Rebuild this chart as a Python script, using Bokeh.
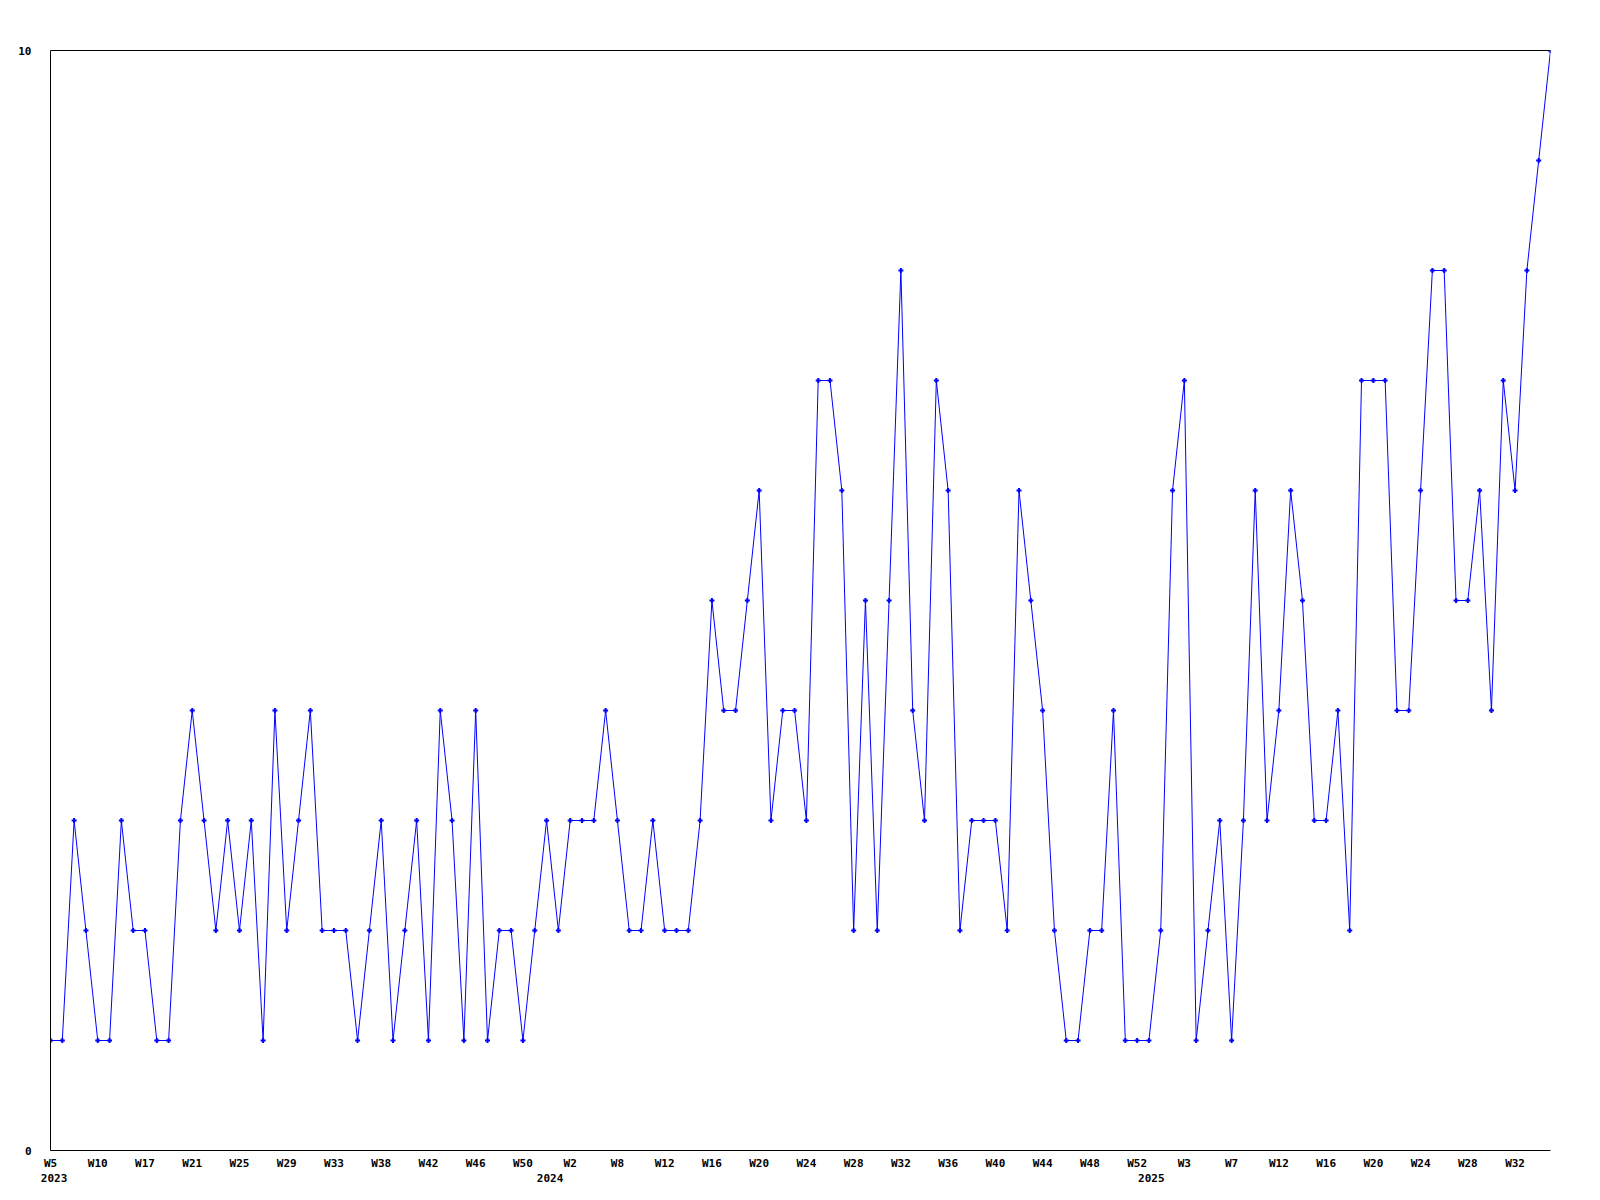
from bokeh.plotting import figure
from bokeh.models import Range1d, FixedTicker, LinearAxis
from bokeh.embed import file_html
from bokeh.resources import INLINE

values = [1, 1, 3, 2, 1, 1, 3, 2, 2, 1,
          1, 3, 4, 3, 2, 3, 2, 3, 1, 4,
          2, 3, 4, 2, 2, 2, 1, 2, 3, 1,
          2, 3, 1, 4, 3, 1, 4, 1, 2, 2,
          1, 2, 3, 2, 3, 3, 3, 4, 3, 2,
          2, 3, 2, 2, 2, 3, 5, 4, 4, 5,
          6, 3, 4, 4, 3, 7, 7, 6, 2, 5,
          2, 5, 8, 4, 3, 7, 6, 2, 3, 3,
          3, 2, 6, 5, 4, 2, 1, 1, 2, 2,
          4, 1, 1, 1, 2, 6, 7, 1, 2, 3,
          1, 3, 6, 3, 4, 6, 5, 3, 3, 4,
          2, 7, 7, 7, 4, 4, 6, 8, 8, 5,
          5, 6, 4, 7, 6, 8, 9, 10]

tick_labels = ["W5", "W10", "W17", "W21", "W25", "W29", "W33", "W38", "W42", "W46",
               "W50", "W2", "W8", "W12", "W16", "W20", "W24", "W28", "W32", "W36",
               "W40", "W44", "W48", "W52", "W3", "W7", "W12", "W16", "W20", "W24",
               "W28", "W32"]
tick_step = 4

years = ["2023", "2024", "2025"]
year_pos = [0.3, 42.3, 93.2]

y_ticks = [0, 10]

x = list(range(len(values)))
FONT = "DejaVu Sans Mono"

p = figure(frame_width=1500, frame_height=1100, output_backend="svg",
           toolbar_location=None, min_border_left=50, min_border_top=50,
           min_border_right=30, min_border_bottom=10,
           x_range=Range1d(0, len(values) - 1), y_range=Range1d(y_ticks[0], y_ticks[-1]))
p.outline_line_color = None
p.grid.visible = False
p.background_fill_color = "white"
p.border_fill_color = "white"

p.line(x, values, line_color="#0000ff", line_width=1)
p.scatter(x, values, marker="cross", size=5, line_width=2, line_color="#0000ff")


def style_axis(ax):
    ax.major_tick_out = 0
    ax.major_tick_in = 0
    ax.minor_tick_out = 0
    ax.minor_tick_in = 0
    ax.major_label_text_font = FONT
    ax.major_label_text_font_style = "bold"
    ax.major_label_text_font_size = "11px"
    ax.major_label_text_color = "black"


ticks = list(range(0, len(values), tick_step))
p.xaxis.ticker = FixedTicker(ticks=ticks)
p.xaxis.major_label_overrides = {t: lab for t, lab in zip(ticks, tick_labels)}
style_axis(p.xaxis[0])
p.xaxis.major_label_standoff = 6
p.xaxis.axis_line_color = "black"

year_axis = LinearAxis(ticker=FixedTicker(ticks=year_pos),
                       major_label_overrides={pos: yr for pos, yr in zip(year_pos, years)})
style_axis(year_axis)
year_axis.axis_line_color = None
year_axis.major_label_standoff = 1
p.add_layout(year_axis, "below")

top_axis = LinearAxis(ticker=FixedTicker(ticks=[]))
style_axis(top_axis)
top_axis.major_label_text_font_size = "0px"
top_axis.major_label_standoff = 0
top_axis.axis_line_color = "black"
p.add_layout(top_axis, "above")

p.yaxis.ticker = FixedTicker(ticks=y_ticks)
p.yaxis.major_label_overrides = {t: str(t) for t in y_ticks}
style_axis(p.yaxis[0])
p.yaxis.major_label_standoff = 19
p.yaxis.axis_line_color = "black"

open("out.html", "w").write(file_html(p, INLINE))
